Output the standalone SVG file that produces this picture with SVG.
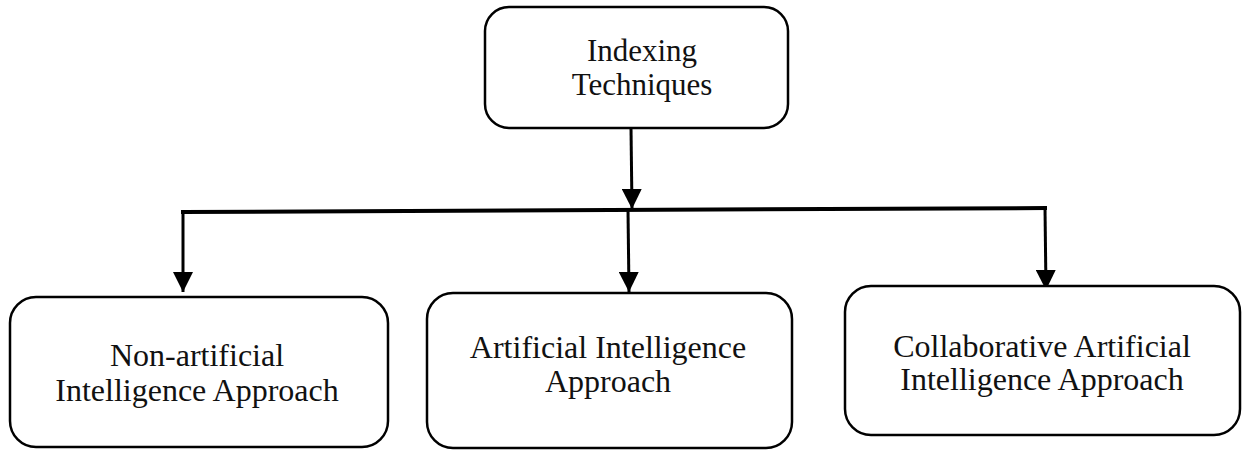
<svg xmlns="http://www.w3.org/2000/svg" width="1243" height="450" viewBox="0 0 1243 450">
  <defs>
    <style>
      .box { fill: #ffffff; stroke: #000000; stroke-width: 2.5; }
      .label { font-family: "Liberation Serif", "Times New Roman", serif; font-size: 32px; fill: #111111; text-anchor: middle; }
      .root-label { font-size: 31px; }
      .wire { fill: none; stroke: #000000; stroke-width: 3; }
      .bus { fill: none; stroke: #000000; stroke-width: 4; stroke-linecap: square; }
    </style>
    <marker id="arrow" markerUnits="userSpaceOnUse" markerWidth="20" markerHeight="20" viewBox="0 0 20 20" refX="20" refY="10" orient="auto">
      <path d="M0,0 L20,10 L0,20 Z" fill="#000000"/>
    </marker>
  </defs>

  <!-- connectors -->
  <g id="connectors">
    <path class="wire" d="M631,128 L632,209" marker-end="url(#arrow)"/>
    <path class="bus" d="M183,212 L1045,208"/>
    <path class="wire" d="M183,212 L183,292" marker-end="url(#arrow)"/>
    <path class="wire" d="M628,210 L629,292" marker-end="url(#arrow)"/>
    <path class="wire" d="M1045,208 L1046,290" marker-end="url(#arrow)"/>
  </g>

  <!-- root node -->
  <g id="indexing-techniques">
    <rect class="box" x="485" y="7" width="303" height="121" rx="24" ry="24"/>
    <text class="label root-label" x="642" y="61">Indexing</text>
    <text class="label root-label" x="642" y="95">Techniques</text>
  </g>

  <!-- child nodes -->
  <g id="non-ai-approach">
    <rect class="box" x="10" y="297" width="378" height="150" rx="26" ry="26"/>
    <text class="label" x="197" y="366">Non-artificial</text>
    <text class="label" x="197" y="401">Intelligence Approach</text>
  </g>

  <g id="ai-approach">
    <rect class="box" x="427" y="293" width="365" height="155" rx="26" ry="26"/>
    <text class="label" x="608" y="358">Artificial Intelligence</text>
    <text class="label" x="608" y="392">Approach</text>
  </g>

  <g id="collaborative-ai-approach">
    <rect class="box" x="845" y="286" width="395" height="149" rx="26" ry="26"/>
    <text class="label" x="1042" y="357">Collaborative Artificial</text>
    <text class="label" x="1042" y="390">Intelligence Approach</text>
  </g>
</svg>
